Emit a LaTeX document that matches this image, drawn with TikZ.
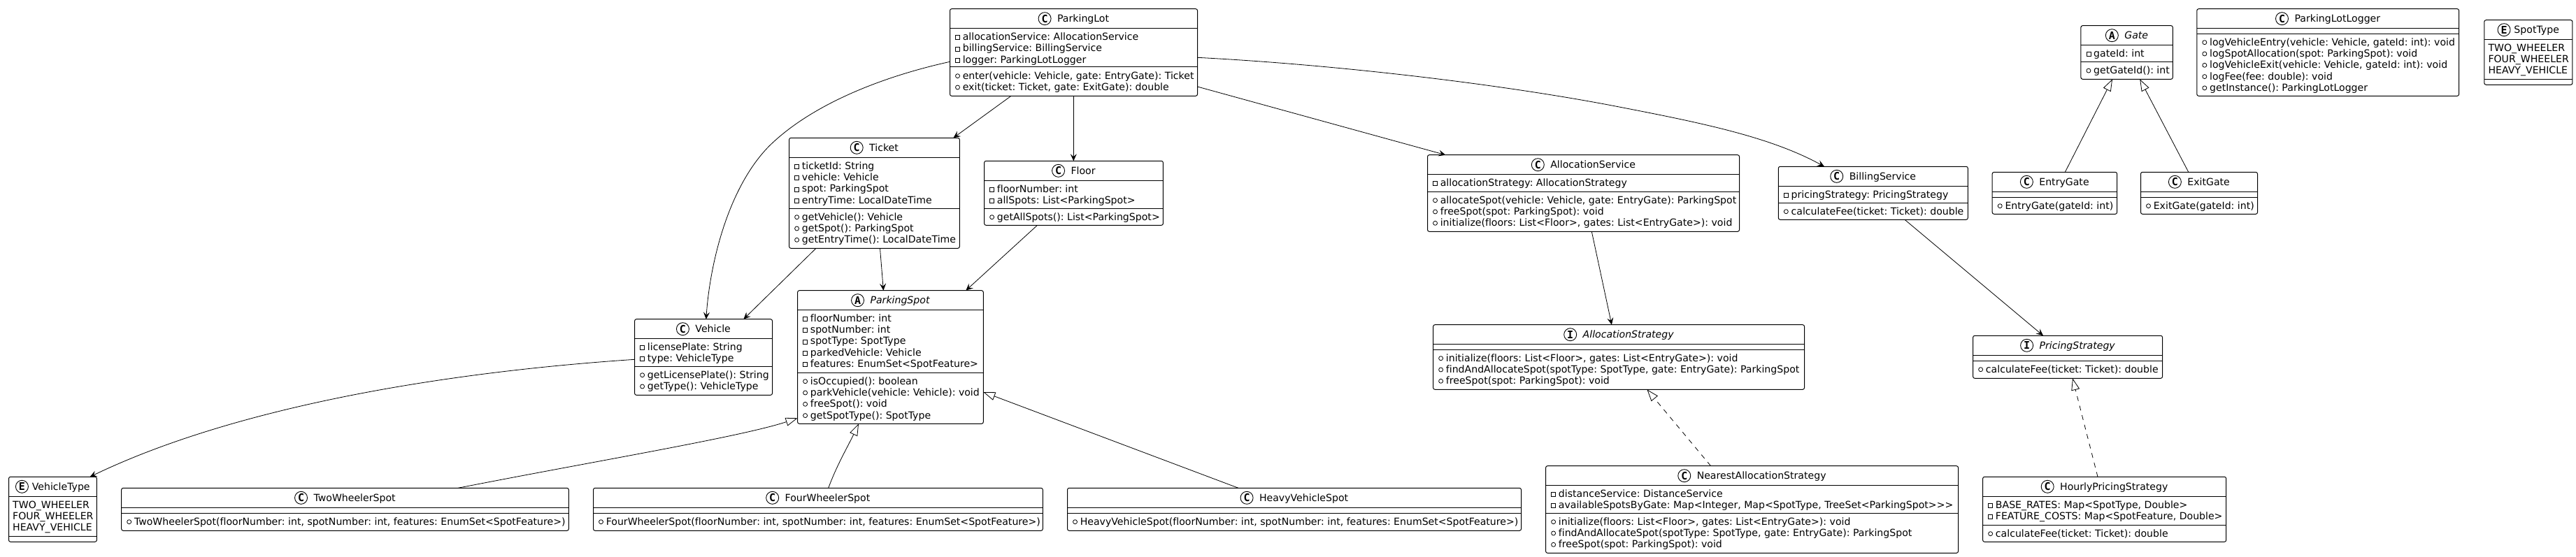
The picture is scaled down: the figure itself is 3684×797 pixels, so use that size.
\documentclass[tikz,border=0pt]{standalone}
\usepackage{fontspec}
\setmainfont{DejaVu Sans}[Ligatures=NoCommon]
\newfontfamily\iconfamily{DejaVu Sans Mono}[Ligatures=NoCommon]
\usetikzlibrary{arrows.meta}
\newcommand\umlfont{\fontsize{14.1pt}{16pt}\selectfont\frenchspacing}
\newcommand\iconfont{\iconfamily\bfseries\fontsize{15pt}{16pt}\selectfont}
\tikzset{
  classbox/.style={draw=black,fill=white,line width=1pt,rounded corners=2.5pt,inner sep=0pt,outer sep=0pt},
  sepline/.style={line width=1pt},
  iconball/.style={circle,draw=black,fill=white,line width=0.9pt,minimum size=18pt,inner sep=0pt,outer sep=0pt,font=\iconfont},
  rowtext/.style={anchor=base west,inner sep=0pt,outer sep=0pt,font=\umlfont},
  marker/.style={line width=0.8pt},
  assoc/.style={line width=0.8pt,-{Stealth[length=10pt,width=9pt,inset=4pt]}},
  inherit/.style={line width=0.8pt,-{Triangle[open,length=17pt,width=12pt,fill=white]}},
  realize/.style={inherit,dash pattern=on 7pt off 7pt},
}
\newcounter{rowc}
\newlength\titlew
\def\parsegeo#1/#2/#3/#4/#5/#6\relax{\gdef\gL{#1}\gdef\gR{#2}\gdef\gT{#3}\gdef\gA{#4}\gdef\gB{#5}\gdef\gE{#6}}
\newcommand\umlclass[5]{%
  \parsegeo#5\relax
  \pgfmathsetmacro\bw{\gR-\gL}\pgfmathsetmacro\bh{\gE-\gT}%
  \pgfmathsetmacro\bx{(\gR+\gL)/2}\pgfmathsetmacro\by{(\gE+\gT)/2}%
  \node[classbox,minimum width=\bw pt,minimum height=\bh pt,name=#1] at (\bx,\by) {};
  \draw[sepline] (\gL,\gA) -- (\gR,\gA);
  \draw[sepline] (\gL,\gB) -- (\gR,\gB);
  \pgfinterruptpicture\setbox0=\hbox{\umlfont#3#4}\global\titlew=\wd0\endpgfinterruptpicture
  \if#2E\def\gapv{23.6}\else\def\gapv{27.2}\fi
  \pgfmathsetmacro\gstart{\bx-(\titlew+\gapv)/2}%
  \pgfmathsetmacro\ix{\gstart+9.2}\pgfmathsetmacro\iy{\gT+14}%
  \pgfmathsetmacro\tx{\gstart+\gapv}\pgfmathsetmacro\ty{\gT+18.8}%
  \node[iconball,name=#1-icon] at (\ix,\iy) {#2};
  \node[rowtext,name=#1-title] at (\tx,\ty) {#3#4};
  \xdef\rowname{#1}%
}
\newcommand\rowsat[1]{\pgfmathsetmacro\tmpy{#1+17}\xdef\rowy{\tmpy}}
\newcommand\nextrow{\pgfmathsetmacro\tmpy{\rowy+16.3}\xdef\rowy{\tmpy}\stepcounter{rowc}}
\newcommand\priv[1]{%
  \pgfmathsetmacro\ma{\gL+8}\pgfmathsetmacro\mb{\gL+14}\pgfmathsetmacro\mc{\rowy-6.8}\pgfmathsetmacro\md{\rowy-0.8}%
  \pgfmathsetmacro\tx{\gL+18.3}%
  \draw[marker] (\ma,\mc) rectangle (\mb,\md);
  \node[rowtext,name=row\therowc] at (\tx,\rowy) {#1};
  \nextrow}
\newcommand\pub[1]{%
  \pgfmathsetmacro\ma{\gL+11}\pgfmathsetmacro\mc{\rowy-4.6}%
  \pgfmathsetmacro\tx{\gL+18.3}%
  \draw[marker] (\ma,\mc) circle (3pt);
  \node[rowtext,name=row\therowc] at (\tx,\rowy) {#1};
  \nextrow}
\newcommand\lit[1]{%
  \pgfmathsetmacro\tx{\gL+5.7}%
  \node[rowtext,name=row\therowc] at (\tx,\rowy) {#1};
  \nextrow}
\begin{document}
\begin{tikzpicture}[x=1pt,y=-1pt]
\useasboundingbox (0,0) rectangle (3684,797);
\fill[white] (0,0) rectangle (3684,797);

\umlclass{lot}{C}{}{ParkingLot}{1358.5/1712.5/12.7/40.7/96/137.3}
\rowsat{40.7}
\priv{allocationService: AllocationService}
\priv{billingService: BillingService}
\priv{logger: ParkingLotLogger}
\rowsat{96.3}
\pub{enter(vehicle: Vehicle, gate: EntryGate): Ticket}
\pub{exit(ticket: Ticket, gate: ExitGate): double}

\umlclass{ticket}{C}{}{Ticket}{1128.6/1372.3/197.3/225.3/298.3/355.3}
\rowsat{225.3}
\priv{ticketId: String}
\priv{vehicle: Vehicle}
\priv{spot: ParkingSpot}
\priv{entryTime: LocalDateTime}
\rowsat{298.3}
\pub{getVehicle(): Vehicle}
\pub{getSpot(): ParkingSpot}
\pub{getEntryTime(): LocalDateTime}

\umlclass{floor}{C}{}{Floor}{1407.6/1663.4/230.3/258.3/298.3/322.3}
\rowsat{258.3}
\priv{floorNumber: int}
\priv{allSpots: List<ParkingSpot>}
\rowsat{298.3}
\pub{getAllSpots(): List<ParkingSpot>}

\umlclass{veh}{C}{}{Vehicle}{907.6/1104.5/456.7/484.3/524.3/565.3}
\rowsat{484.3}
\priv{licensePlate: String}
\priv{type: VehicleType}
\rowsat{524.3}
\pub{getLicensePlate(): String}
\pub{getType(): VehicleType}

\umlclass{spot}{A}{\itshape}{ParkingSpot}{1140.6/1406.3/415.7/443.3/533.3/606.3}
\rowsat{443.3}
\priv{floorNumber: int}
\priv{spotNumber: int}
\priv{spotType: SpotType}
\priv{parkedVehicle: Vehicle}
\priv{features: EnumSet<SpotFeature>}
\rowsat{533.3}
\pub{isOccupied(): boolean}
\pub{parkVehicle(vehicle: Vehicle): void}
\pub{freeSpot(): void}
\pub{getSpotType(): SpotType}

\umlclass{vt}{E}{}{VehicleType}{12.5/138.4/682.3/710.3/767/775.3}
\rowsat{710.3}
\lit{TWO\_WHEELER}
\lit{FOUR\_WHEELER}
\lit{HEAVY\_VEHICLE}

\umlclass{two}{C}{}{TwoWheelerSpot}{173.7/813.3/698.3/726.3/734.3/759.3}
\rowsat{734.3}
\pub{TwoWheelerSpot(floorNumber: int, spotNumber: int, features: EnumSet<SpotFeature>)}

\umlclass{four}{C}{}{FourWheelerSpot}{848.5/1491.3/698.3/726.3/734.3/759.3}
\rowsat{734.3}
\pub{FourWheelerSpot(floorNumber: int, spotNumber: int, features: EnumSet<SpotFeature>)}

\umlclass{heavy}{C}{}{HeavyVehicleSpot}{1526.5/2175.5/698.3/726.3/734.3/759.3}
\rowsat{734.3}
\pub{HeavyVehicleSpot(floorNumber: int, spotNumber: int, features: EnumSet<SpotFeature>)}

\umlclass{asvc}{C}{}{AllocationService}{2041.5/2487.5/221.7/249.3/274.3/331.3}
\rowsat{249.3}
\priv{allocationStrategy: AllocationStrategy}
\rowsat{274.3}
\pub{allocateSpot(vehicle: Vehicle, gate: EntryGate): ParkingSpot}
\pub{freeSpot(spot: ParkingSpot): void}
\pub{initialize(floors: List<Floor>, gates: List<EntryGate>): void}

\umlclass{astrat}{I}{\itshape}{AllocationStrategy}{2049.6/2580.5/464.7/492.3/500.3/557.3}
\rowsat{500.3}
\pub{initialize(floors: List<Floor>, gates: List<EntryGate>): void}
\pub{findAndAllocateSpot(spotType: SpotType, gate: EntryGate): ParkingSpot}
\pub{freeSpot(spot: ParkingSpot): void}

\umlclass{nearest}{C}{}{NearestAllocationStrategy}{2210.6/2800.5/666.7/694.3/734.3/791.3}
\rowsat{694.3}
\priv{distanceService: DistanceService}
\priv{availableSpotsByGate: Map<Integer, Map<SpotType, TreeSet<ParkingSpot>{}>{}>}
\rowsat{734.3}
\pub{initialize(floors: List<Floor>, gates: List<EntryGate>): void}
\pub{findAndAllocateSpot(spotType: SpotType, gate: EntryGate): ParkingSpot}
\pub{freeSpot(spot: ParkingSpot): void}

\umlclass{bill}{C}{}{BillingService}{2543.3/2814.3/238.3/266.3/290.3/314.3}
\rowsat{266.3}
\priv{pricingStrategy: PricingStrategy}
\rowsat{290.3}
\pub{calculateFee(ticket: Ticket): double}

\umlclass{pstrat}{I}{\itshape}{PricingStrategy}{2821.6/3092.6/480.3/508.3/516.3/541.3}
\rowsat{516.3}
\pub{calculateFee(ticket: Ticket): double}

\umlclass{hourly}{C}{}{HourlyPricingStrategy}{2835.6/3183.7/682.3/710.3/751.3/775.3}
\rowsat{710.3}
\priv{BASE\_RATES: Map<SpotType, Double>}
\priv{FEATURE\_COSTS: Map<SpotFeature, Double>}
\rowsat{751.3}
\pub{calculateFee(ticket: Ticket): double}

\umlclass{gate}{A}{\itshape}{Gate}{2975.9/3107.3/36.7/64.3/88.7/113.3}
\rowsat{64.3}
\priv{gateId: int}
\rowsat{88.7}
\pub{getGateId(): int}

\umlclass{entry}{C}{}{EntryGate}{2849.2/3027.6/246.3/274.3/282.3/306.3}
\rowsat{282.3}
\pub{EntryGate(gateId: int)}

\umlclass{exitg}{C}{}{ExitGate}{3061.5/3228.5/246.3/274.3/282.3/306.3}
\rowsat{282.3}
\pub{ExitGate(gateId: int)}

\umlclass{logger}{C}{}{ParkingLotLogger}{3141.8/3516.6/12.7/40.7/48.3/137.3}
\rowsat{48.3}
\pub{logVehicleEntry(vehicle: Vehicle, gateId: int): void}
\pub{logSpotAllocation(spot: ParkingSpot): void}
\pub{logVehicleExit(vehicle: Vehicle, gateId: int): void}
\pub{logFee(fee: double): void}
\pub{getInstance(): ParkingLotLogger}

\umlclass{stype}{E}{}{SpotType}{3552.8/3678.9/28.7/56.3/113.3/121.3}
\rowsat{56.3}
\lit{TWO\_WHEELER}
\lit{FOUR\_WHEELER}
\lit{HEAVY\_VEHICLE}

% connectors
\draw[assoc] ([yshift=-75.6pt]lot.north west) .. controls (1260,110) and (1160,150) .. (1100,209) .. controls (1040,270) and (1015,380) .. ([xshift=102.2pt]veh.north west);
\draw[assoc] ([xshift=87.5pt]lot.south west) -- ([xshift=234.8pt]ticket.north west);
\draw[assoc] ([xshift=176.8pt]lot.south west) -- ([xshift=127.7pt]floor.north west);
\draw[assoc] ([yshift=-111.3pt]lot.north east) -- ([xshift=25.8pt]asvc.north west);
\draw[assoc] ([yshift=-69.6pt]lot.north east) .. controls (1900,92) and (2130,118) .. (2300,150) .. controls (2430,175) and (2530,195) .. ([xshift=65.7pt]bill.north west);
\draw[assoc] ([xshift=38.4pt]ticket.south west) -- ([xshift=155.8pt]veh.north west);
\draw[assoc] ([xshift=129.9pt]ticket.south west) -- ([xshift=122.8pt]spot.north west);
\draw[assoc] ([xshift=75.9pt]floor.south west) -- ([xshift=240.7pt]spot.north west);
\draw[assoc] ([yshift=-57.6pt]veh.north west) .. controls (600,535) and (320,590) .. ([xshift=116.1pt]vt.north west);
\draw[inherit] ([xshift=481.3pt]two.north west) .. controls (850,660) and (1060,625) .. ([yshift=-182.6pt]spot.north west);
\draw[inherit] ([xshift=336.2pt]four.north west) .. controls (1197,665) and (1212,640) .. ([xshift=87.4pt]spot.south west);
\draw[inherit] ([xshift=244.5pt]heavy.north west) -- ([yshift=-145.3pt]spot.north east);
\draw[assoc] ([xshift=234.8pt]asvc.south west) -- ([xshift=255.3pt]astrat.north west);
\draw[assoc] ([xshift=180.7pt]bill.south west) -- ([xshift=100.4pt]pstrat.north west);
\draw[realize] ([xshift=236pt]nearest.north west) -- ([xshift=305.8pt]astrat.south west);
\draw[realize] ([xshift=164.4pt]hourly.north west) -- ([xshift=142.4pt]pstrat.south west);
\draw[inherit] ([xshift=104.1pt]entry.north west) -- ([xshift=45.1pt]gate.south west);
\draw[inherit] ([xshift=68.3pt]exitg.north west) -- ([xshift=84.3pt]gate.south west);
\end{tikzpicture}
\end{document}
